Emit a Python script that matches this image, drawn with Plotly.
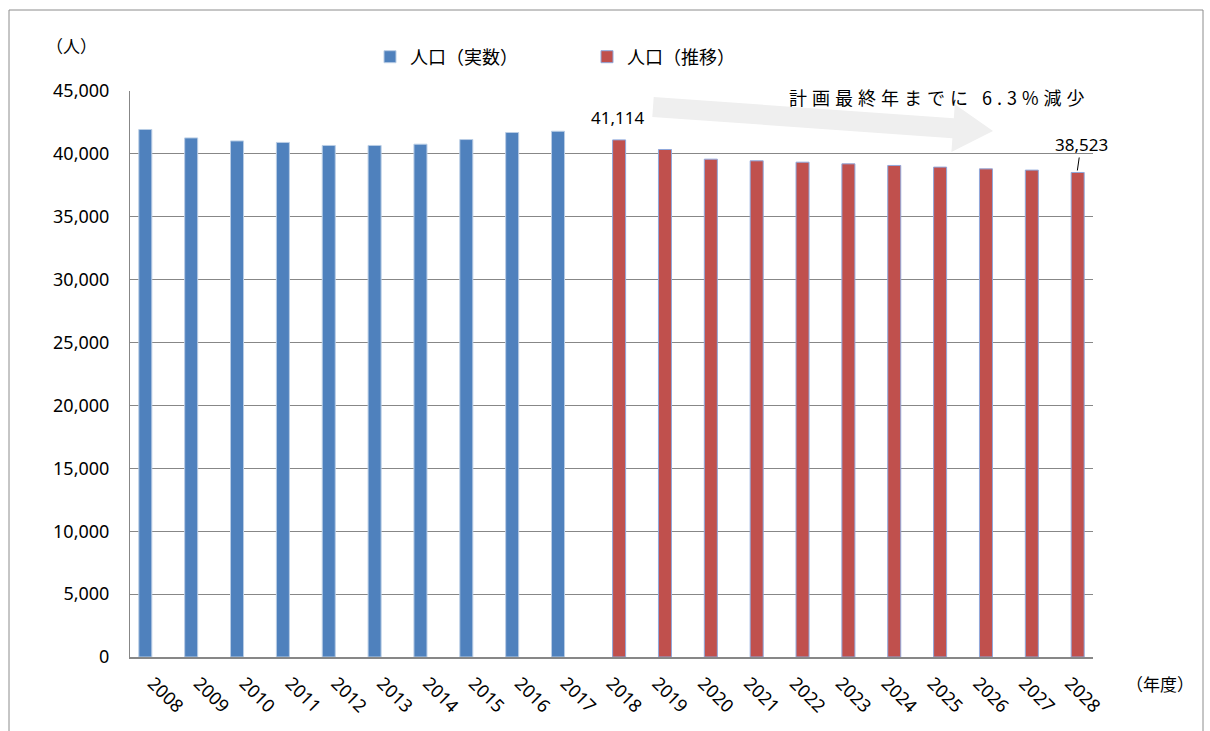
import math
import plotly.graph_objects as go

# ---- data ----
years = [str(y) for y in range(2008, 2029)]
actual_years = [str(y) for y in range(2008, 2018)]
actual_values = [41940, 41270, 41030, 40910, 40670, 40670, 40770, 41140, 41700, 41800]
proj_years = [str(y) for y in range(2018, 2029)]
proj_values = [41114, 40350, 39580, 39450, 39340, 39210, 39080, 38950, 38810, 38710, 38523]
series_names = ["人口（実数）", "人口（推移）"]
y_ticks = [0, 5000, 10000, 15000, 20000, 25000, 30000, 35000, 40000, 45000]

W, H = 1210, 731
L, R, T, B = 130, 117, 91, 74
PW, PH = W - L - R, H - T - B


def px(x):
    return (x - L) / PW


def py(y):
    return (H - B - y) / PH


blue_map = dict(zip(actual_years, actual_values))
red_map = dict(zip(proj_years, proj_values))

fig = go.Figure()
fig.add_trace(go.Bar(
    x=years, y=[blue_map.get(y) for y in years], name=series_names[0],
    marker=dict(color="#4F81BD", line=dict(color="#B9CDE5", width=1)),
))
fig.add_trace(go.Bar(
    x=years, y=[red_map.get(y) for y in years], name=series_names[1],
    marker=dict(color="#C0504D", line=dict(color="#8FA8DC", width=1)),
))

# gray block arrow (decoration)
S = (653, 107)
Tp = (993, 131)
dx, dy = Tp[0] - S[0], Tp[1] - S[1]
Ln = math.hypot(dx, dy)
d = (dx / Ln, dy / Ln)
n = (-d[1], d[0])
Bc = (S[0] + (Ln - 40) * d[0], S[1] + (Ln - 40) * d[1])


def pt(c, k):
    return (c[0] + k * n[0], c[1] + k * n[1])


pts = [pt(S, -10), pt(Bc, -10), pt(Bc, -24), Tp, pt(Bc, 24), pt(Bc, 10), pt(S, 10)]
path = "M " + " L ".join(f"{px(a):.5f},{py(b):.5f}" for a, b in pts) + " Z"
fig.add_shape(type="path", path=path, xref="paper", yref="paper",
              fillcolor="#EFEFEF", line=dict(width=0), layer="below")

# outer frame
fig.add_shape(type="rect", xref="paper", yref="paper",
              x0=px(9), x1=px(1203), y0=py(740), y1=py(10),
              line=dict(color="#8C8C8C", width=1), layer="below")

cjk = "Noto Sans CJK JP"
num = "Noto Sans, Noto Sans CJK JP"

fig.add_annotation(x=px(71), y=py(45), xref="paper", yref="paper", text="（人）",
                   xanchor="center", yanchor="middle",
                   showarrow=False, font=dict(family=cjk, size=17, color="black"))
fig.add_annotation(x=px(1160), y=py(683), xref="paper", yref="paper", text="（年度）",
                   xanchor="center", yanchor="middle",
                   showarrow=False, font=dict(family=cjk, size=17, color="black"))
fig.add_annotation(x=px(1092), y=py(97), xref="paper", yref="paper",
                   xanchor="right", yanchor="middle",
                   text='<span style="letter-spacing:5px">計画最終年までに 6.3%減少</span>',
                   showarrow=False, font=dict(family=cjk, size=18, color="black"))

# data labels (positions via category index on the axis)
i_first = years.index(proj_years[0])
i_last = years.index(proj_years[-1])
fig.add_annotation(x=i_first, y=proj_values[0], text=f"{proj_values[0]:,}",
                   showarrow=False, yanchor="bottom", yshift=9, xshift=6,
                   font=dict(family=num, size=17, color="black"))
fig.add_annotation(x=i_last, y=proj_values[-1], text=f"{proj_values[-1]:,}",
                   showarrow=True, arrowhead=0, arrowwidth=1, arrowcolor="black",
                   ax=4, ay=-28, xshift=7, standoff=2,
                   font=dict(family=num, size=17, color="black"))

fig.update_layout(
    width=W, height=H,
    margin=dict(l=L, r=R, t=T, b=B),
    paper_bgcolor="white", plot_bgcolor="white",
    barmode="group", bargap=0.336, bargroupgap=0.145,
    showlegend=True,
    legend=dict(orientation="h", x=px(370), y=py(57), xanchor="left", yanchor="middle",
                entrywidth=172, entrywidthmode="pixels", itemwidth=30,
                font=dict(family=cjk, size=18, color="black"), bgcolor="rgba(0,0,0,0)"),
    font=dict(family=num, color="black"),
)
fig.update_xaxes(type="category", categoryorder="array", categoryarray=years,
                 range=[-0.5, len(years) - 0.5],
                 tickangle=45, showline=True, linecolor="#878787", linewidth=1.5,
                 ticks="", showgrid=False, ticklabelstandoff=7, ticklabelshift=0,
                 tickfont=dict(family=num, size=18, color="black"))
fig.update_yaxes(range=[0, 45000], tickvals=y_ticks, tickformat=",", showline=True,
                 linecolor="#878787", linewidth=1, gridcolor="#878787", gridwidth=1,
                 ticks="", ticklabelstandoff=16, zeroline=False,
                 tickfont=dict(family=num, size=18, color="black"))

fig.write_html("out.html", config={"displayModeBar": False},
               post_script="document.body.style.margin='0';")
